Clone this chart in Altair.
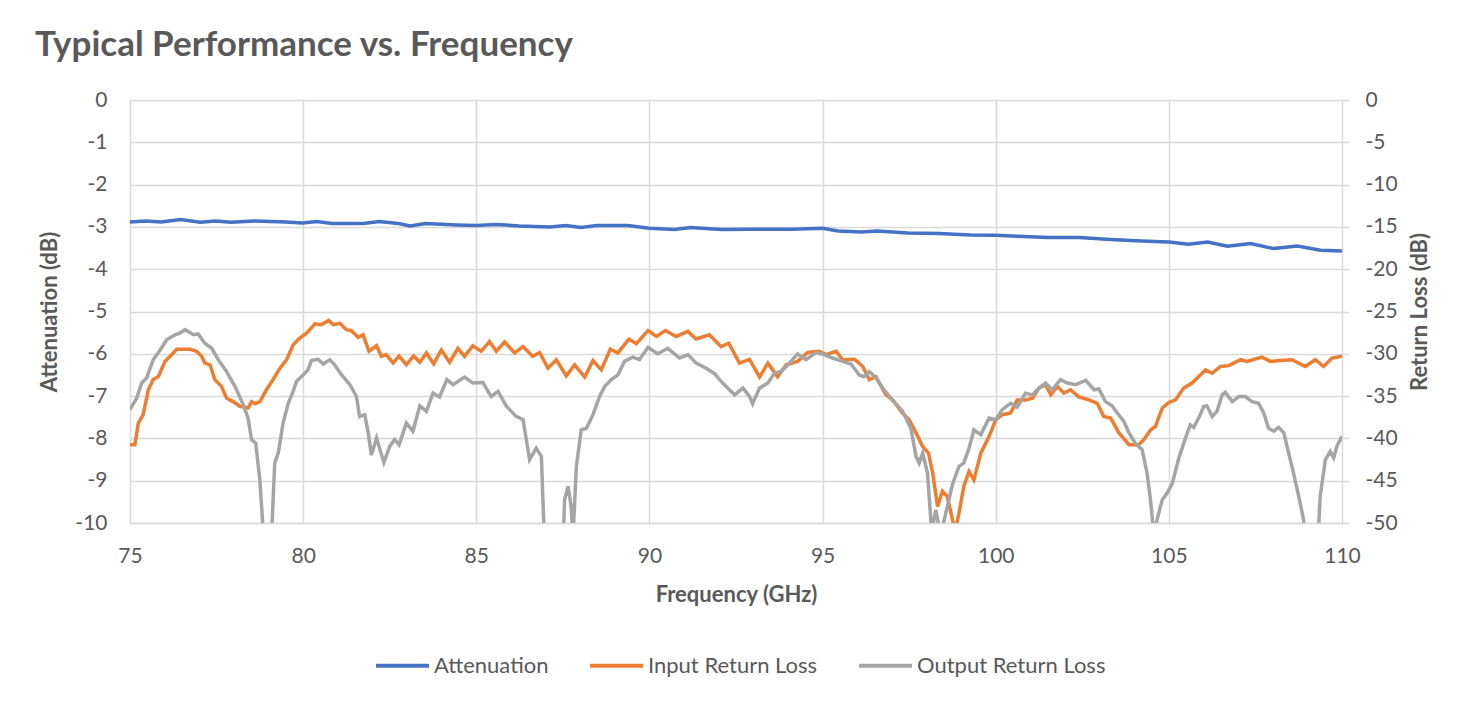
import altair as alt
import pandas as pd

# ---------------- data ----------------
att_freq = [75.0, 75.45, 75.9, 76.46, 77.02, 77.47, 77.92, 78.6, 79.49, 79.99, 80.39, 80.84,
            81.74, 82.19, 82.75, 83.09, 83.54, 84.44, 85.0, 85.56, 86.24, 87.13, 87.58, 88.03,
            88.48, 89.38, 89.99, 90.73, 91.18, 92.08, 92.98, 94.1, 95.0, 95.45, 96.12, 96.57,
            97.47, 98.37, 99.27, 99.99, 100.62, 101.52, 102.42, 103.31, 104.21, 105.0, 105.56,
            106.12, 106.69, 107.36, 108.03, 108.71, 109.38, 110.0]
att_db = [-2.882, -2.858, -2.882, -2.826, -2.889, -2.858, -2.889, -2.858, -2.882, -2.905, -2.874,
          -2.921, -2.921, -2.874, -2.921, -2.976, -2.921, -2.953, -2.968, -2.945, -2.976, -3.0,
          -2.968, -3.016, -2.968, -2.968, -3.032, -3.063, -3.016, -3.063, -3.055, -3.055, -3.032,
          -3.095, -3.118, -3.095, -3.142, -3.158, -3.19, -3.197, -3.221, -3.253, -3.253, -3.3,
          -3.332, -3.355, -3.411, -3.355, -3.458, -3.395, -3.513, -3.45, -3.553, -3.569]

irl_freq = [75.0, 75.14, 75.24, 75.38, 75.53, 75.67, 75.82, 76.01, 76.25, 76.35, 76.73, 76.92,
            77.07, 77.16, 77.31, 77.45, 77.64, 77.79, 77.98, 78.17, 78.41, 78.51, 78.61, 78.75,
            78.94, 79.13, 79.33, 79.52, 79.71, 79.9, 80.1, 80.34, 80.53, 80.74, 80.87, 81.06,
            81.25, 81.39, 81.59, 81.73, 81.9, 82.12, 82.26, 82.4, 82.6, 82.77, 82.98, 83.19,
            83.37, 83.56, 83.77, 83.99, 84.23, 84.47, 84.66, 84.9, 85.14, 85.38, 85.58, 85.82,
            86.11, 86.35, 86.63, 86.83, 87.07, 87.31, 87.6, 87.84, 88.13, 88.37, 88.61, 88.87,
            89.09, 89.41, 89.62, 89.96, 90.2, 90.46, 90.77, 91.11, 91.35, 91.73, 92.07, 92.29,
            92.6, 92.89, 93.18, 93.42, 93.7, 93.95, 94.28, 94.57, 94.9, 95.1, 95.39, 95.58,
            95.92, 96.16, 96.35, 96.54, 96.83, 97.02, 97.31, 97.5, 97.7, 97.89, 98.06, 98.18,
            98.32, 98.46, 98.6, 98.75, 98.83, 98.94, 99.08, 99.23, 99.37, 99.57, 99.81, 100.0,
            100.19, 100.43, 100.62, 100.86, 101.06, 101.25, 101.44, 101.59, 101.78, 101.97,
            102.16, 102.4, 102.69, 102.93, 103.12, 103.32, 103.56, 103.85, 104.13, 104.28,
            104.47, 104.61, 104.81, 105.0, 105.19, 105.43, 105.67, 105.91, 106.06, 106.25,
            106.49, 106.73, 107.07, 107.26, 107.69, 107.93, 108.22, 108.56, 108.94, 109.23,
            109.47, 109.71, 110.0]
irl_db = [-40.75, -40.75, -38.2, -37.2, -34.25, -33.05, -32.7, -30.9, -29.9, -29.45, -29.45, -29.7,
          -30.3, -31.1, -31.3, -33.05, -33.85, -35.25, -35.65, -36.2, -36.4, -35.65, -35.9, -35.65,
          -34.25, -33.05, -31.7, -30.7, -28.95, -28.15, -27.55, -26.45, -26.55, -26.05, -26.55, -26.4,
          -27.15, -27.25, -28.05, -27.75, -29.7, -29.05, -30.3, -30.1, -31.1, -30.25, -31.3, -30.25,
          -31.0, -29.9, -31.2, -29.55, -31.0, -29.35, -30.3, -29.05, -29.7, -28.55, -29.7, -28.6,
          -29.9, -29.15, -30.3, -29.85, -31.7, -30.7, -32.6, -31.3, -32.75, -30.8, -31.9, -29.45,
          -29.9, -28.25, -28.8, -27.25, -27.95, -27.25, -27.95, -27.35, -28.25, -27.75, -29.15, -28.75,
          -31.1, -30.65, -32.75, -31.1, -32.7, -31.3, -30.9, -29.85, -29.7, -30.1, -29.7, -30.7,
          -30.65, -31.5, -33.05, -32.7, -34.85, -35.45, -37.0, -37.8, -39.35, -40.95, -41.75, -44.1,
          -48.05, -46.25, -46.85, -49.6, -51.0, -48.8, -45.65, -43.9, -44.9, -41.75, -39.75, -37.8,
          -37.2, -37.0, -35.45, -35.45, -35.25, -34.05, -33.65, -34.85, -33.85, -34.65,
          -34.25, -35.1, -35.45, -35.85, -37.4, -37.6, -39.35, -40.75, -40.75, -40.15,
          -39.0, -38.6, -36.4, -35.75, -35.45, -34.05, -33.45, -32.5, -31.9, -32.3,
          -31.5, -31.4, -30.7, -30.9, -30.4, -30.9, -30.8, -30.7, -31.5, -30.7,
          -31.5, -30.5, -30.3]

orl_freq = [75.0, 75.19, 75.34, 75.48, 75.67, 75.87, 76.06, 76.3, 76.44, 76.59, 76.83, 76.97,
            77.16, 77.36, 77.55, 77.79, 78.03, 78.27, 78.41, 78.51, 78.63, 78.75, 78.88, 78.97,
            79.07, 79.18, 79.28, 79.42, 79.57, 79.71, 79.81, 80.0, 80.14, 80.24, 80.43, 80.58,
            80.77, 80.91, 81.11, 81.35, 81.54, 81.63, 81.78, 81.88, 81.97, 82.12, 82.33, 82.5,
            82.64, 82.77, 82.98, 83.17, 83.37, 83.56, 83.75, 83.94, 84.15, 84.33, 84.66, 84.9,
            85.19, 85.43, 85.63, 85.87, 86.15, 86.35, 86.54, 86.73, 86.88, 87.0, 87.25, 87.48,
            87.55, 87.65, 87.74, 87.79, 87.89, 88.03, 88.18, 88.37, 88.56, 88.71, 88.9, 89.09,
            89.28, 89.52, 89.71, 89.96, 90.24, 90.53, 90.87, 91.11, 91.35, 91.64, 91.88, 92.07,
            92.26, 92.46, 92.7, 92.89, 92.98, 93.18, 93.42, 93.61, 93.8, 94.0, 94.28, 94.52,
            94.81, 95.05, 95.29, 95.58, 95.82, 96.06, 96.2, 96.35, 96.54, 96.73, 97.02, 97.31,
            97.55, 97.7, 97.79, 97.89, 98.03, 98.15, 98.27, 98.41, 98.56, 98.75, 98.94, 99.08,
            99.23, 99.37, 99.57, 99.81, 100.0, 100.19, 100.43, 100.62, 100.86, 101.06, 101.25,
            101.44, 101.63, 101.87, 102.07, 102.31, 102.6, 102.84, 102.98, 103.17, 103.36,
            103.51, 103.7, 103.85, 104.04, 104.23, 104.37, 104.47, 104.57, 104.66, 104.81,
            104.95, 105.1, 105.29, 105.48, 105.62, 105.72, 105.86, 106.01, 106.1, 106.25,
            106.39, 106.54, 106.63, 106.83, 107.02, 107.21, 107.4, 107.59, 107.74, 107.88,
            108.03, 108.17, 108.32, 108.46, 108.6, 108.75, 108.89, 109.0, 109.13, 109.27,
            109.37, 109.52, 109.66, 109.76, 109.85, 110.0]
orl_db = [-36.6, -35.25, -33.45, -32.85, -30.7, -29.55, -28.35, -27.75, -27.55, -27.15, -27.75, -27.65,
          -28.75, -29.35, -30.7, -32.1, -33.85, -36.0, -37.6, -40.15, -40.55, -44.9, -53.0, -62.0,
          -53.0, -42.9, -41.75, -38.2, -35.85, -34.45, -33.25, -32.5, -31.9, -30.8, -30.65, -31.2,
          -30.7, -31.3, -32.5, -33.65, -35.05, -37.4, -37.2, -39.35, -41.95, -39.95, -42.85, -40.95,
          -40.15, -40.75, -38.2, -39.15, -36.15, -36.8, -34.65, -35.1, -33.05, -33.65, -32.75, -33.45,
          -33.4, -35.05, -34.45, -36.2, -37.4, -37.8, -42.5, -41.15, -42.15, -56.0, -65.0, -56.0,
          -47.25, -45.65, -48.05, -52.0, -43.3, -39.0, -38.8, -37.2, -35.05, -33.85, -33.05, -32.5,
          -30.9, -30.4, -30.7, -29.25, -30.0, -29.35, -30.5, -30.1, -31.1, -31.7, -32.35, -33.25,
          -34.05, -34.85, -34.05, -35.05, -35.9, -34.05, -33.45, -32.3, -32.1, -31.3, -30.0, -30.7,
          -29.85, -30.1, -30.5, -30.9, -31.2, -32.5, -32.7, -32.1, -32.85, -34.05, -35.45, -36.8,
          -38.8, -42.15, -42.9, -41.75, -44.1, -51.0, -48.45, -51.5, -48.8, -45.45, -43.3, -42.9,
          -41.15, -39.0, -39.55, -37.6, -37.8, -36.6, -35.85, -36.3, -34.65, -34.85, -34.05,
          -33.45, -34.25, -33.05, -33.45, -33.65, -33.15, -34.25, -34.15, -35.65, -36.15,
          -37.0, -38.0, -39.35, -40.65, -41.35, -44.1, -47.25, -51.5, -49.6, -47.25,
          -46.45, -45.3, -42.3, -39.95, -38.4, -38.7, -37.6, -36.2, -36.15, -37.4,
          -36.8, -34.85, -34.55, -35.65, -35.05, -35.05, -35.65, -35.85, -37.0, -38.8,
          -39.15, -38.7, -39.35, -41.75, -44.1, -46.85, -49.6, -55.0, -62.0, -55.0,
          -46.85, -42.5, -41.55, -42.3, -40.95, -39.75]

series_names = ["Attenuation", "Input Return Loss", "Output Return Loss"]
series_colors = ["#4472C4", "#ED7D31", "#A5A5A5"]
x_ticks = [75, 80, 85, 90, 95, 100, 105, 110]
att_ticks = [0, -1, -2, -3, -4, -5, -6, -7, -8, -9, -10]
rl_ticks = [0, -5, -10, -15, -20, -25, -30, -35, -40, -45, -50]

# ---------------- tables ----------------
att_df = pd.DataFrame({"freq": att_freq, "value": att_db, "series": series_names[0]})
rl_df = pd.concat([
    pd.DataFrame({"freq": irl_freq, "value": irl_db, "series": series_names[1]}),
    pd.DataFrame({"freq": orl_freq, "value": orl_db, "series": series_names[2]}),
], ignore_index=True)

FONT = "Lato"
TXT = "#595959"
GRID = "#D9D9D9"
HYPHEN_LABEL = "'' + datum.value"

legend = alt.Legend(title=None, orient="none", legendX=244, legendY=537, direction="horizontal",
                    symbolType="stroke", symbolSize=2809, symbolStrokeWidth=4,
                    labelFont=FONT, labelFontSize=22, labelColor=TXT, labelOffset=3, labelLimit=0,
                    columnPadding=33, padding=0)
color = alt.Color("series:N", scale=alt.Scale(domain=series_names, range=series_colors), legend=legend)

x_axis = alt.Axis(values=x_ticks, title="Frequency (GHz)", grid=True, gridColor=GRID, gridWidth=1.5,
                  domain=True, domainColor=GRID, domainWidth=1.5, ticks=False, labelPadding=22,
                  labelFlush=False, labelOverlap=False,
                  labelFont=FONT, labelFontSize=21, labelColor=TXT, titleFont=FONT, titleFontSize=22,
                  titleFontWeight="bold", titleColor=TXT, titlePadding=18)
x_enc = alt.X("freq:Q", scale=alt.Scale(domain=[75, 110], nice=False, zero=False), axis=x_axis)

att = alt.Chart(att_df).mark_line(strokeWidth=3.5, clip=True).encode(
    x=x_enc,
    y=alt.Y("value:Q", scale=alt.Scale(domain=[-10, 0], nice=False),
            axis=alt.Axis(values=att_ticks, orient="left", title="Attenuation (dB)", grid=True,
                          gridColor=GRID, gridWidth=1.5, domain=False, ticks=False, labelPadding=23,
                          labelExpr=HYPHEN_LABEL, labelFlush=False,
                          labelFont=FONT, labelFontSize=21, labelColor=TXT, titleFont=FONT,
                          titleFontSize=22, titleFontWeight="bold", titleColor=TXT, titlePadding=13)),
    color=color,
)

rl = alt.Chart(rl_df).mark_line(strokeWidth=3.5, clip=True).encode(
    x=x_enc,
    y=alt.Y("value:Q", scale=alt.Scale(domain=[-50, 0], nice=False),
            axis=alt.Axis(values=rl_ticks, orient="right", title="Return Loss (dB)", grid=False,
                          domain=False, ticks=True, tickColor=GRID, tickWidth=1.5, tickSize=7,
                          labelPadding=16, labelExpr=HYPHEN_LABEL, labelFlush=False,
                          labelFont=FONT, labelFontSize=21, labelColor=TXT,
                          titleFont=FONT, titleFontSize=22, titleFontWeight="bold", titleColor=TXT,
                          titlePadding=12, titleAngle=270, titleBaseline="top")),
    color=color,
)

chart = alt.layer(att, rl).resolve_scale(y="independent").properties(
    width=1212, height=423,
    autosize=alt.AutoSizeParams(type="none"),
    padding={"left": 122, "top": 92, "right": 119, "bottom": 171},
    title=alt.TitleParams(text="Typical Performance vs. Frequency", anchor="start", frame="group",
                          dx=-95, offset=26, font=FONT, fontSize=35, fontWeight="bold", color=TXT),
).configure_view(stroke=None).configure(background="white")

chart.save("out.html", embed_options={"renderer": "svg", "actions": False})
